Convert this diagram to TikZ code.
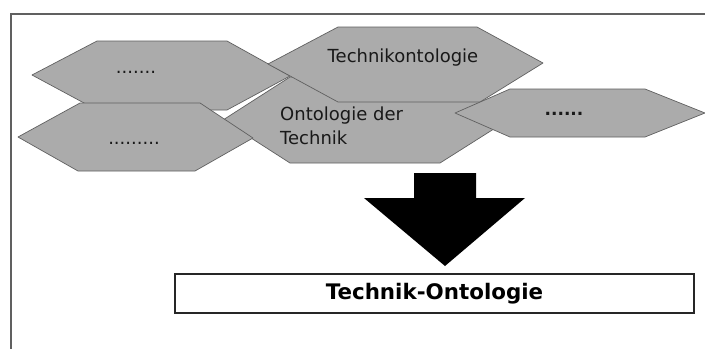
\documentclass[tikz,border=0pt]{standalone}
\usepackage{fontspec}
\setmainfont{DejaVu Sans}
\begin{document}
\begin{tikzpicture}[x=1pt,y=-1pt,
  hexa/.style={fill=gray!66, draw=gray!75!black, line width=0.7pt, line join=round},
  lbl/.style={inner sep=0pt, font=\fontsize{18}{24}\selectfont, text=black!90},
  framel/.style={draw=gray!75!black, line width=1.1pt}]
\useasboundingbox (0,0) rectangle (705,349);
\fill[white] (0,0) rectangle (705,349);
% open frame (top and left)
\draw[framel] (705,14) -- (11,14) -- (11,349);
% hexagons
\draw[hexa] (32,75) -- (97,41) -- (227,41) -- (290,76) -- (227,110) -- (97,110) -- cycle;
\draw[hexa] (223,120) -- (290,77) -- (440,77) -- (508,120) -- (440,163) -- (290,163) -- cycle;
\draw[hexa] (268,64) -- (338,27) -- (477,27) -- (543,63) -- (480,102) -- (338,102) -- cycle;
\draw[hexa] (18,137) -- (80,103) -- (200,103) -- (253,138) -- (195,171) -- (78,171) -- cycle;
\draw[hexa] (455,113) -- (510,89) -- (645,89) -- (705,113) -- (645,137) -- (510,137) -- cycle;
% labels
\node[lbl, anchor=base] (d1) at (136,73) {.......};
\node[lbl, anchor=base] (t2) at (403,62) {Technikontologie};
\node[lbl, anchor=base west, align=left] (t3) at (280,144) {Ontologie der\\Technik};
\node[lbl, anchor=base] (d4) at (134,144) {.........};
\node[lbl, anchor=base, font=\fontsize{17}{23}\selectfont\bfseries] (d5) at (564,115) {......};
% arrow
\fill[black] (414,173) -- (476,173) -- (476,198) -- (525,198) -- (445,266) -- (364,198) -- (414,198) -- cycle;
% result box
\node[draw=black!85, line width=1.3pt, minimum width=519pt, minimum height=39pt, inner sep=0pt,
      font=\fontsize{21.4}{24}\selectfont\bfseries] (res) at (434.5,293.5) {Technik-Ontologie};
\end{tikzpicture}
\end{document}
